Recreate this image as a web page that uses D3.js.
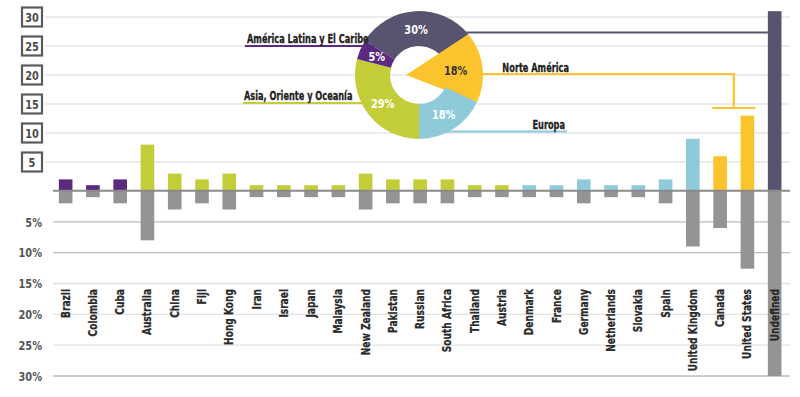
<!DOCTYPE html>
<html>
<head>
<meta charset="utf-8">
<script src="https://cdn.jsdelivr.net/npm/d3@7"></script>
<style>
  body { margin: 0; background: #fff; }
  text { font-family: "Liberation Sans Narrow", "DejaVu Sans Condensed", sans-serif; font-weight: bold; }
</style>
</head>
<body>
<div id="chart"></div>
<script>
const width = 800;
const height = 397;

// datos
const countries = ["Brazil", "Colombia", "Cuba", "Australia", "China", "Fiji", "Hong Kong", "Iran", "Israel",
  "Japan", "Malaysia", "New Zealand", "Pakistan", "Russian", "South Africa", "Thailand", "Austria",
  "Denmark", "France", "Germany", "Netherlands", "Slovakia", "Spain", "United Kingdom", "Canada",
  "United States", "Undefined"];
const regionOf = ["lat", "lat", "lat", "asia", "asia", "asia", "asia", "asia", "asia", "asia", "asia", "asia",
  "asia", "asia", "asia", "asia", "asia", "eur", "eur", "eur", "eur", "eur", "eur", "eur", "na", "na", "und"];
const topValues = [2, 1, 2, 8, 3, 2, 3, 1, 1, 1, 1, 3, 2, 2, 2, 1, 1, 1, 1, 2, 1, 1, 2, 9, 6, 13, 31];
const bottomValues = [2, 1, 2, 8, 3, 2, 3, 1, 1, 1, 1, 3, 2, 2, 2, 1, 1, 1, 1, 2, 1, 1, 2, 9, 6, 12.6, 30];
const topTicks = [5, 10, 15, 20, 25, 30];
const bottomTicks = [5, 10, 15, 20, 25, 30];

const regionKeys = ["und", "na", "eur", "asia", "lat"];
const regionNames = ["", "Norte América", "Europa", "Asia, Oriente y Oceanía", "América Latina y El Caribe"];
const regionShares = [30, 18, 18, 29, 5];

const colors = { lat: "#5b2a7f", asia: "#c3cd38", eur: "#8ecad9", na: "#fcc42c", und: "#58546f" };
const negColor = "#949497";
const squeeze = 0.84; // la fuente original es condensada

const svg = d3.select("#chart").append("svg")
  .attr("width", width)
  .attr("height", height);

svg.append("rect").attr("width", width).attr("height", height).attr("fill", "#fff");

// escalas
const x = d3.scaleBand()
  .domain(countries)
  .range([52, 788.3])
  .paddingInner(0.5)
  .paddingOuter(0.25);

const yTop = d3.scaleLinear().domain([0, 30]).range([191, 17]);
const yBot = d3.scaleLinear().domain([0, 30]).range([191, 376]);

// grilla superior
svg.append("g").selectAll("line")
  .data(topTicks)
  .join("line")
  .attr("x1", 45).attr("x2", 790)
  .attr("y1", d => yTop(d)).attr("y2", d => yTop(d))
  .attr("stroke", "#e4e4e4").attr("stroke-width", 1.3);

// grilla inferior
svg.append("g").selectAll("line")
  .data(bottomTicks)
  .join("line")
  .attr("x1", 53).attr("x2", 790)
  .attr("y1", d => yBot(d)).attr("y2", d => yBot(d))
  .attr("stroke", d => (d >= 15 && d <= 25) ? "#e2e2e2" : "#bdbdbd")
  .attr("stroke-width", 1.3);

// etiquetas eje superior en cajas
const topLab = svg.append("g").selectAll("g")
  .data(topTicks)
  .join("g")
  .attr("transform", d => `translate(32,${yTop(d)})`);

topLab.append("rect")
  .attr("x", -10).attr("y", -9.5)
  .attr("width", 20).attr("height", 19)
  .attr("fill", "#fff").attr("stroke", "#5a5a5a").attr("stroke-width", 2.2);

topLab.append("text")
  .attr("text-anchor", "middle")
  .attr("dy", "0.36em")
  .attr("font-size", 13)
  .attr("transform", `scale(${squeeze},1)`)
  .attr("fill", "#4a4a4a")
  .text(d => d);

// etiquetas eje inferior
svg.append("g").selectAll("text")
  .data(bottomTicks)
  .join("text")
  .attr("transform", d => `translate(42,${yBot(d)}) scale(${squeeze},1)`)
  .attr("dy", "0.36em")
  .attr("text-anchor", "end")
  .attr("font-size", 13)
  .attr("fill", "#555")
  .text(d => d + "%");

// barras superiores
svg.append("g").selectAll("rect")
  .data(countries)
  .join("rect")
  .attr("x", d => x(d))
  .attr("width", x.bandwidth())
  .attr("y", (d, i) => yTop(topValues[i]))
  .attr("height", (d, i) => yTop(0) - yTop(topValues[i]))
  .attr("fill", (d, i) => colors[regionOf[i]]);

// barras inferiores
svg.append("g").selectAll("rect")
  .data(countries)
  .join("rect")
  .attr("x", d => x(d))
  .attr("width", x.bandwidth())
  .attr("y", yBot(0))
  .attr("height", (d, i) => yBot(bottomValues[i]) - yBot(0))
  .attr("fill", negColor);

// línea base
svg.append("line")
  .attr("x1", 53).attr("x2", 790)
  .attr("y1", 190.7).attr("y2", 190.7)
  .attr("stroke", "#8a8a8a").attr("stroke-width", 2);

// nombres de países
svg.append("g").selectAll("text")
  .data(countries)
  .join("text")
  .attr("transform", d => `translate(${x(d) + x.bandwidth() / 2 + 4},289) rotate(-90) scale(${squeeze},1)`)
  .attr("text-anchor", "end")
  .attr("font-size", 12)
  .attr("fill", "#2a2a2a")
  .attr("stroke", "#2a2a2a").attr("stroke-width", 0.25)
  .text(d => d);

// dona
const cx = 419, cy = 75, rOut = 64, rIn = 29;
const a0 = -57.6 * Math.PI / 180;
const pie = d3.pie().sort(null).value(d => d.v).startAngle(a0).endAngle(a0 + 2 * Math.PI);
const slices = pie(regionKeys.map((k, i) => ({ k: k, v: regionShares[i], name: regionNames[i] })));
const arc = d3.arc().innerRadius(rIn).outerRadius(rOut);
const labelArc = d3.arc().innerRadius(46).outerRadius(46);

// líneas guía (debajo de la dona)
const guides = svg.append("g").attr("fill", "none").attr("stroke-width", 2.2);
// Undefined
guides.append("path")
  .attr("d", `M${cx + 40},32.5H${x("Undefined")}`)
  .attr("stroke", colors.und);
// Norte América
const naMid = (x("Canada") + x("United States") + x.bandwidth()) / 2;
guides.append("path")
  .attr("d", `M${cx + 40},74H${naMid}V108M${x("Canada") - 1},108H${x("United States") + x.bandwidth() + 1}`)
  .attr("stroke", colors.na);
// América Latina
guides.append("path")
  .attr("d", `M245,46H${cx - 40}`)
  .attr("stroke", colors.lat);
// Asia
guides.append("path")
  .attr("d", `M243,103H${cx - 40}`)
  .attr("stroke", colors.asia);
// Europa
guides.append("path")
  .attr("d", `M${cx + 20},131.5H567`)
  .attr("stroke", colors.eur);

const donut = svg.append("g");
donut.selectAll("path")
  .data(slices)
  .join("path")
  .attr("fill", d => colors[d.data.k])
  .attr("d", d => {
    if (d.data.k !== "na") return arc(d);
    // la porción amarilla llega hasta el centro
    const p = d3.path();
    p.moveTo(cx - 13, cy);
    p.arc(cx, cy, rOut, d.startAngle - Math.PI / 2, d.endAngle - Math.PI / 2);
    p.closePath();
    return p.toString();
  })
  .attr("transform", d => d.data.k === "na" ? null : `translate(${cx},${cy})`);

donut.selectAll("text")
  .data(slices)
  .join("text")
  .attr("transform", d => {
    let px, py;
    if (d.data.k === "na") {
      const m = (d.startAngle + d.endAngle) / 2;
      px = cx + 37 * Math.sin(m); py = cy - 37 * Math.cos(m);
    } else {
      const c = labelArc.centroid(d);
      px = cx + c[0]; py = cy + c[1];
    }
    return `translate(${px},${py}) scale(${squeeze},1)`;
  })
  .attr("text-anchor", "middle")
  .attr("dy", "0.36em")
  .attr("font-size", 13)
  .attr("fill", d => d.data.k === "na" ? "#333" : "#fff")
  .text(d => d.data.v + "%");

// nombres de regiones
const regionLabelPos = { na: [569, 71.5, "end"], eur: [565, 129, "end"], asia: [244, 99.5, "start"], lat: [247, 43, "start"] };
svg.append("g").selectAll("text")
  .data(regionKeys.filter(k => k !== "und"))
  .join("text")
  .attr("transform", k => `translate(${regionLabelPos[k][0]},${regionLabelPos[k][1]}) scale(0.73,1)`)
  .attr("text-anchor", k => regionLabelPos[k][2])
  .attr("font-size", 12.5)
  .attr("fill", "#222")
  .attr("stroke", "#222").attr("stroke-width", 0.3)
  .text(k => regionNames[regionKeys.indexOf(k)]);
</script>
</body>
</html>
